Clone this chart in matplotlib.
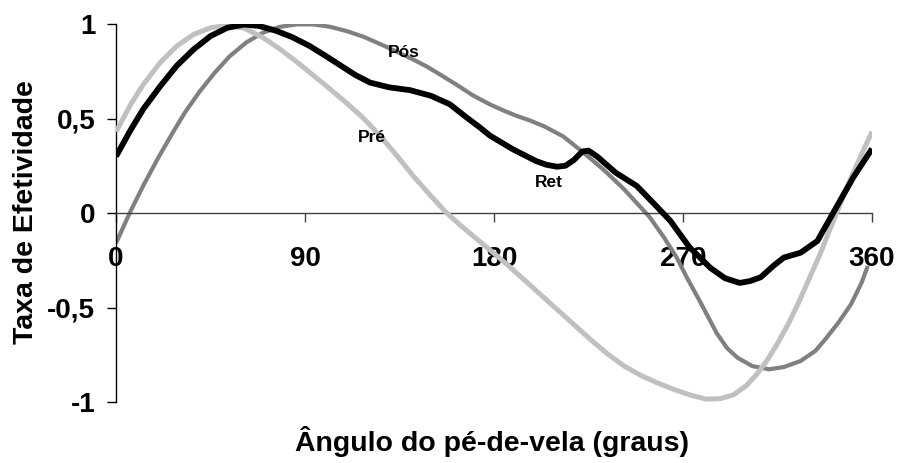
import matplotlib
matplotlib.use("Agg")
import matplotlib.pyplot as plt

plt.rcParams['font.family'] = ['Liberation Sans', 'DejaVu Sans']

# Angles (degrees) and effectiveness values
pre_ang = [0, 7, 13, 21, 29, 37, 45, 53, 61, 70, 78, 86, 94, 102, 110, 118, 126, 134,
           142, 150, 157, 164, 171, 178, 186, 194, 202, 210, 218, 226, 234, 242, 250,
           258, 266, 274, 281, 288, 294, 300, 305, 310, 315, 320, 325, 330, 335, 340,
           345, 350, 355, 360]
pre_val = [0.43, 0.575, 0.68, 0.795, 0.884, 0.945, 0.98, 0.993, 0.978, 0.928, 0.868,
           0.80, 0.728, 0.655, 0.58, 0.50, 0.405, 0.30, 0.19, 0.09, 0.005, -0.065,
           -0.13, -0.195, -0.27, -0.35, -0.43, -0.51, -0.59, -0.67, -0.745, -0.81,
           -0.86, -0.90, -0.935, -0.965, -0.985, -0.982, -0.962, -0.915, -0.855,
           -0.78, -0.69, -0.59, -0.475, -0.35, -0.225, -0.085, 0.05, 0.185, 0.31, 0.43]

pos_ang = [0, 6.5, 13, 20, 27, 33, 40, 47, 54, 62, 70, 78, 86, 94, 102, 110, 118, 126,
           134, 141, 148, 155, 162, 170, 178, 185, 191, 197, 204, 213, 222, 232, 242,
           254, 261, 267, 272, 278, 286, 291, 296, 303, 311, 318, 326, 333, 338, 344,
           350, 355, 358]
pos_val = [-0.16, 0.0, 0.145, 0.29, 0.425, 0.535, 0.645, 0.742, 0.828, 0.902, 0.954,
           0.985, 0.998, 0.998, 0.985, 0.962, 0.932, 0.893, 0.852, 0.815, 0.775, 0.728,
           0.68, 0.622, 0.575, 0.54, 0.513, 0.49, 0.458, 0.405, 0.325, 0.231, 0.125,
           -0.02, -0.13, -0.236, -0.345, -0.466, -0.635, -0.715, -0.766, -0.81, -0.827,
           -0.815, -0.783, -0.73, -0.665, -0.58, -0.483, -0.37, -0.28]

ret_ang = [0, 7, 13, 21, 29, 37, 45, 53, 61, 68, 76, 84, 92, 100, 107, 114, 121, 130,
           140, 150, 159, 167, 173, 178, 189, 200, 205, 210, 214, 218, 222, 225, 229,
           238, 248, 257, 264, 273, 283, 290, 297, 302, 307, 313, 318, 326, 334, 342,
           351, 360]
ret_val = [0.30, 0.44, 0.55, 0.67, 0.78, 0.866, 0.936, 0.98, 0.997, 0.99, 0.965, 0.93,
           0.885, 0.83, 0.78, 0.73, 0.69, 0.665, 0.65, 0.62, 0.575, 0.505, 0.455, 0.41,
           0.337, 0.275, 0.255, 0.245, 0.25, 0.28, 0.325, 0.33, 0.30, 0.213, 0.143,
           0.04, -0.042, -0.18, -0.29, -0.345, -0.37, -0.36, -0.34, -0.28, -0.236,
           -0.21, -0.148, 0.01, 0.187, 0.34]

x_ticks = [0, 90, 180, 270, 360]
x_ticklabels = ['0', '90', '180', '270', '360']
y_ticks = [-1, -0.5, 0, 0.5, 1]
y_ticklabels = ['-1', '-0,5', '0', '0,5', '1']

series_labels = ['Pós', 'Pré', 'Ret']
label_pos = [(137, 0.85), (122, 0.40), (206, 0.164)]

fig = plt.figure(figsize=(9, 4.63), dpi=100)
ax = fig.add_axes([116/900, 1-402/463, 756/900, 378/463])

ax.plot(pos_ang, pos_val, color='#808080', lw=3.0, solid_joinstyle='round',
        solid_capstyle='butt', zorder=2)
ax.plot(pre_ang, pre_val, color='#C0C0C0', lw=3.6, solid_joinstyle='round',
        solid_capstyle='butt', zorder=3)
ax.plot(ret_ang, ret_val, color='#000000', lw=4.2, solid_joinstyle='round',
        solid_capstyle='butt', zorder=4)

for lab, (xa, ya) in zip(series_labels, label_pos):
    ax.text(xa, ya, lab, ha='center', va='center', fontsize=12.5, fontweight='bold',
            color='black', zorder=5)

ax.set_xlim(0, 360)
ax.set_ylim(-1, 1)
ax.spines['top'].set_visible(False)
ax.spines['right'].set_visible(False)
ax.spines['bottom'].set_position(('data', 0))
ax.spines['bottom'].set_color('#404040')
ax.spines['bottom'].set_linewidth(1.0)
ax.spines['left'].set_color('black')
ax.spines['left'].set_linewidth(1.0)

ax.set_xticks(x_ticks)
ax.set_xticklabels(x_ticklabels)
ax.set_yticks(y_ticks)
ax.set_yticklabels(y_ticklabels)
ax.tick_params(axis='x', direction='out', length=6.5, width=1.0, color='#404040',
               pad=17.5, labelsize=20)
ax.tick_params(axis='y', direction='out', length=6.5, width=1.0, color='black',
               pad=8.5, labelsize=20)
for t in ax.get_xticklabels() + ax.get_yticklabels():
    t.set_fontweight('bold')

fig.text(33/900, 1-212.5/463, 'Taxa de Efetividade', rotation=90,
         rotation_mode='anchor', ha='center', va='baseline', fontsize=20.5,
         fontweight='bold')
fig.text(492/900, 1-451/463, 'Ângulo do pé-de-vela (graus)', ha='center',
         va='baseline', fontsize=20.5, fontweight='bold')

fig.savefig('out.png', dpi=100, facecolor='white')
